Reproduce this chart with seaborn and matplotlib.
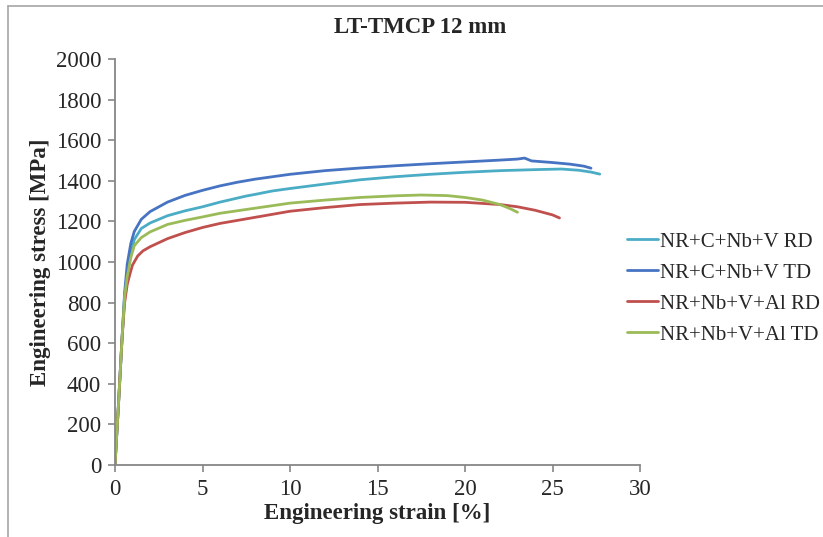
import numpy as np
import pandas as pd
import seaborn as sns
import matplotlib.pyplot as plt
from matplotlib.lines import Line2D

# Tensile curves, engineering strain [%] vs engineering stress [MPa]
c_rd_strain = [0, 0.2, 0.4, 0.55, 0.7, 0.9, 1.1, 1.5, 2.0, 3.0, 4.0, 5.0, 6.0, 7.0, 7.5,
               8.0, 8.7, 9.0, 10.0, 12.0, 14.0, 16.0, 18.0, 20.0, 22.0, 24.0, 25.5, 26.5, 27.2, 27.7]
c_rd_stress = [0, 300, 620, 830, 940, 1040, 1110, 1165, 1192, 1228, 1252, 1272, 1295, 1315, 1325,
               1333, 1345, 1350, 1362, 1384, 1405, 1420, 1432, 1442, 1450, 1455, 1458, 1452, 1443, 1433]

c_td_strain = [0, 0.2, 0.4, 0.55, 0.7, 0.9, 1.1, 1.5, 2.0, 3.0, 4.0, 5.0, 6.0, 7.0, 8.0, 9.0,
               10.0, 12.0, 14.0, 16.0, 18.0, 20.0, 22.0, 23.0, 23.4, 23.8, 25.0, 26.0, 26.8, 27.2]
c_td_stress = [0, 300, 620, 850, 990, 1090, 1150, 1210, 1248, 1295, 1328, 1353, 1375, 1393, 1408, 1420,
               1432, 1450, 1463, 1474, 1484, 1493, 1502, 1507, 1512, 1498, 1490, 1482, 1472, 1462]

al_rd_strain = [0, 0.2, 0.4, 0.55, 0.7, 0.85, 1.0, 1.3, 1.6, 2.0, 3.0, 4.0, 5.0, 6.0, 8.0,
                10.0, 12.0, 14.0, 16.0, 18.0, 20.0, 22.0, 23.0, 24.0, 25.0, 25.4]
al_rd_stress = [0, 300, 620, 800, 890, 940, 985, 1030, 1055, 1075, 1115, 1145, 1170, 1190, 1220,
                1250, 1268, 1283, 1290, 1295, 1294, 1283, 1272, 1255, 1232, 1217]

al_td_strain = [0, 0.2, 0.4, 0.55, 0.7, 0.9, 1.1, 1.5, 2.0, 3.0, 4.0, 5.0, 6.0, 8.0, 10.0,
                12.0, 14.0, 16.0, 17.5, 19.0, 20.0, 21.0, 22.0, 22.6, 23.0]
al_td_stress = [0, 300, 620, 830, 930, 1020, 1080, 1120, 1148, 1185, 1205, 1222, 1240, 1265, 1290,
                1305, 1318, 1326, 1330, 1327, 1318, 1305, 1283, 1262, 1245]

series_names = ["NR+C+Nb+V RD", "NR+C+Nb+V TD", "NR+Nb+V+Al RD", "NR+Nb+V+Al TD"]
series_colors = ["#4BACC6", "#4673C2", "#C0504D", "#9BBB59"]

x_ticks = [0, 5, 10, 15, 20, 25, 30]
y_ticks = [0, 200, 400, 600, 800, 1000, 1200, 1400, 1600, 1800, 2000]

frames = []
for name, xs, ys in zip(series_names,
                        [c_rd_strain, c_td_strain, al_rd_strain, al_td_strain],
                        [c_rd_stress, c_td_stress, al_rd_stress, al_td_stress]):
    frames.append(pd.DataFrame({"strain": xs, "stress": ys, "series": name}))
df = pd.concat(frames, ignore_index=True)

sns.set_style("white")
plt.rcParams["font.family"] = ["Liberation Serif", "DejaVu Serif"]

FS = 16.5
W, H = 823, 537
fig = plt.figure(figsize=(W / 100, H / 100), dpi=100)
ax = fig.add_axes([115 / W, 1 - 465 / H, (640 - 115) / W, (465 - 59) / H])

sns.lineplot(data=df, x="strain", y="stress", hue="series", hue_order=series_names,
             palette=dict(zip(series_names, series_colors)), estimator=None, sort=False,
             linewidth=2.0, ax=ax, legend=False)

ax.set_xlim(0, 30)
ax.set_ylim(0, 2000)
ax.set_xticks(x_ticks)
ax.set_yticks(y_ticks)
ax.set_xticklabels([str(v) for v in x_ticks], fontsize=FS)
ax.set_yticklabels([str(v) for v in y_ticks], fontsize=FS)
ax.tick_params(axis="both", direction="out", length=5, width=1.2, color="#868686",
               bottom=True, left=True, pad=5)
for side in ["top", "right"]:
    ax.spines[side].set_visible(False)
for side in ["left", "bottom"]:
    ax.spines[side].set_color("#868686")
    ax.spines[side].set_linewidth(1.3)
ax.margins(0)

ax.set_xlabel("Engineering strain [%]", fontsize=FS, fontweight="bold", labelpad=2)
ax.set_ylabel("Engineering stress [MPa]", fontsize=FS, fontweight="bold", labelpad=3)

fig.text(420 / W, 1 - 28 / H, "LT-TMCP 12 mm", ha="center", va="center",
         fontsize=FS, fontweight="bold")

handles = [Line2D([0], [0], color=c, lw=2.0) for c in series_colors]
fig.legend(handles, series_names, loc="upper left", bbox_to_anchor=(627 / W, 1 - 232 / H),
           frameon=False, fontsize=15, handlelength=1.5, handletextpad=0.08,
           labelspacing=0.55, borderaxespad=0, borderpad=0)

# chart frame (left and top edges)
fig.add_artist(Line2D([8 / W, 8 / W], [0, 1 - 6 / H], color="#A6A6A6", lw=1.2))
fig.add_artist(Line2D([8 / W, 1], [1 - 6 / H, 1 - 6 / H], color="#A6A6A6", lw=1.2))

fig.savefig("out.png", dpi=100)
